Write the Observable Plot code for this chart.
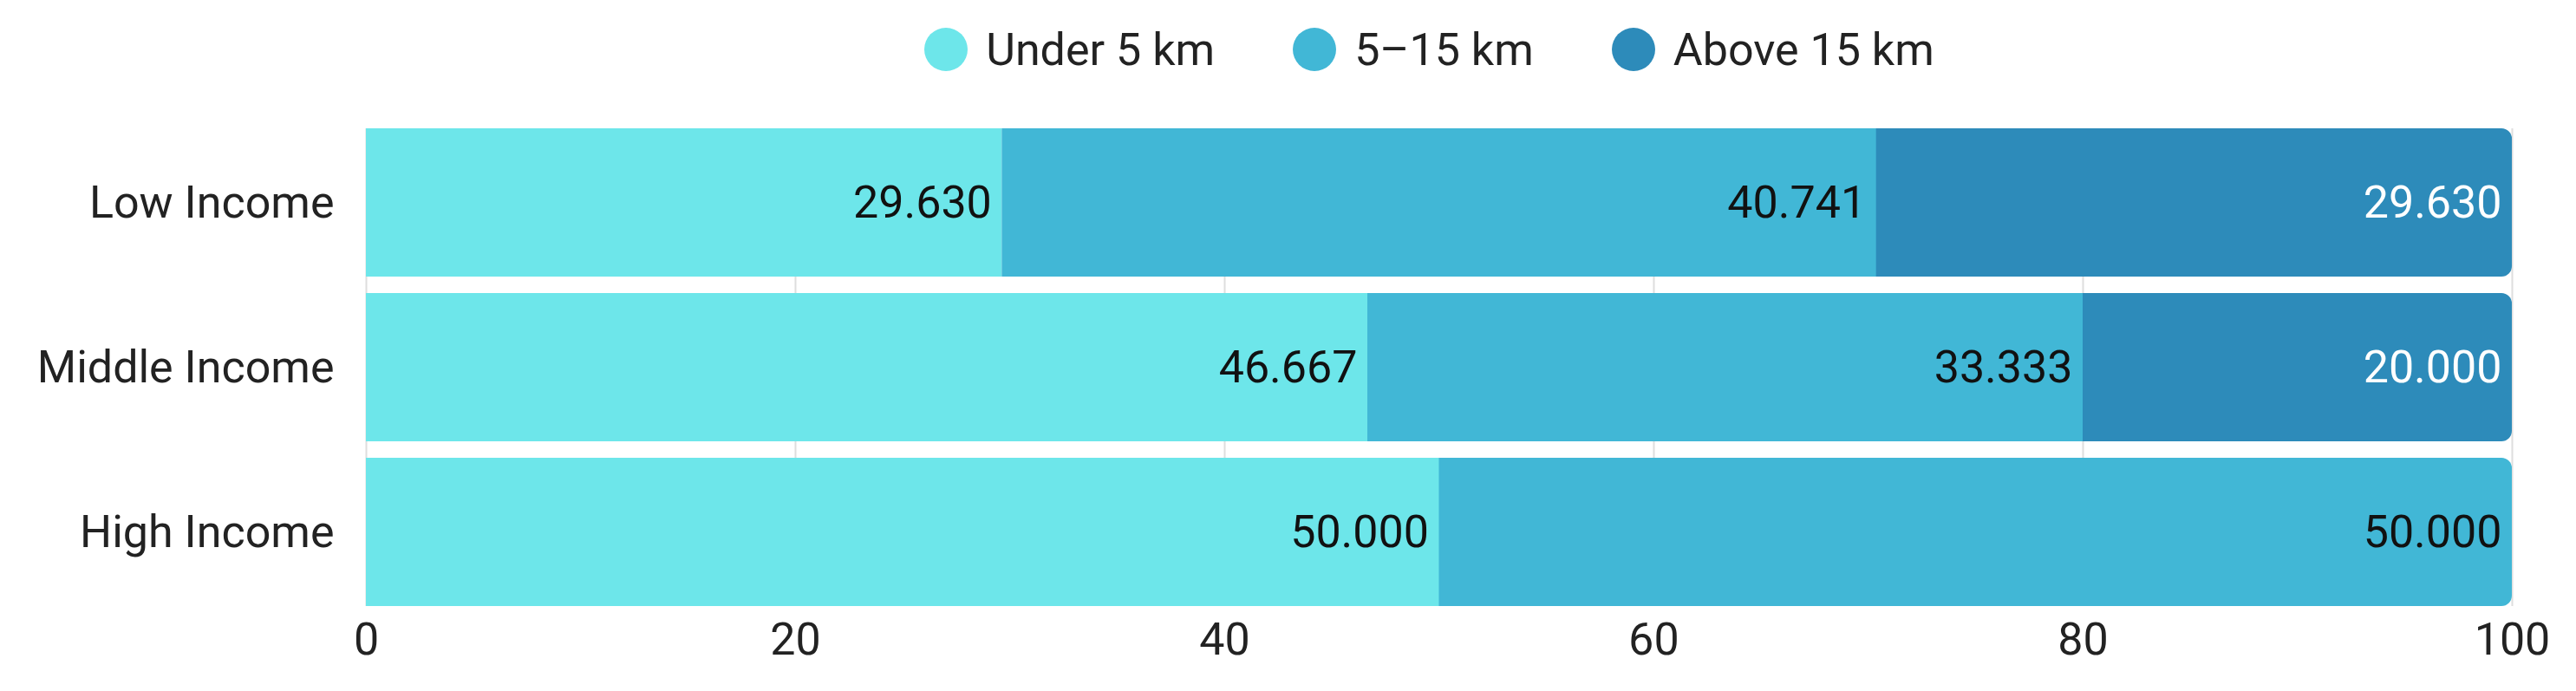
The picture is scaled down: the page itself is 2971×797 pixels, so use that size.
<!DOCTYPE html>
<html><head><meta charset="utf-8">
<script src="https://cdn.jsdelivr.net/npm/d3@7"></script>
<script src="https://cdn.jsdelivr.net/npm/@observablehq/plot@0.6"></script>
<style>
body{margin:0;background:#fff;font-family:Roboto, sans-serif;}
#legend{height:114px;display:flex;align-items:center;justify-content:center;padding-left:326px;box-sizing:border-box;width:2971px;}
.item{display:flex;align-items:center;margin:0 45px;}
.sw{width:50px;height:50px;border-radius:50%;margin-right:21px;}
.lab{font-size:52px;color:#222;white-space:nowrap;}
</style></head><body>
<div id="legend"></div><div id="chart"></div>
<script>
const categories = ["Low Income", "Middle Income", "High Income"];
const series = ["Under 5 km", "5–15 km", "Above 15 km"];
const under5 = [29.630, 46.667, 50.000];
const from5to15 = [40.741, 33.333, 50.000];
const above15 = [29.630, 20.000, 0];
const colors = ["#6DE6EA", "#41B7D6", "#2D8BBA"];
const xTicks = [0, 20, 40, 60, 80, 100];

const seriesValues = [under5, from5to15, above15];
const rows = [];
categories.forEach((cat, i) => {
  let acc = 0;
  const segs = [];
  series.forEach((s, j) => {
    const v = seriesValues[j][i];
    if (v > 0) { segs.push({cat, series: s, value: v, start: acc, end: acc + v, dark: j === 2}); acc += v; }
  });
  segs.forEach((d, k) => { d.last = k === segs.length - 1; rows.push(d); });
});
const fmt = d3.format(".3f");

// legend
const lg = document.getElementById("legend");
series.forEach((s, j) => {
  const it = document.createElement("div"); it.className = "item";
  const sw = document.createElement("div"); sw.className = "sw"; sw.style.background = colors[j];
  const lb = document.createElement("span"); lb.className = "lab"; lb.textContent = s;
  it.appendChild(sw); it.appendChild(lb); lg.appendChild(it);
});

const chart = Plot.plot({
  width: 2971,
  height: 683,
  marginLeft: 422,
  marginRight: 74,
  marginTop: 34,
  marginBottom: 98,
  style: {fontFamily: "Roboto, sans-serif", fontSize: "52px", color: "#222", background: "#fff"},
  x: {domain: [0, 100]},
  y: {domain: categories, paddingInner: 0.1, paddingOuter: 0},
  color: {domain: series, range: colors},
  marks: [
    Plot.gridX(xTicks, {stroke: "#dedede", strokeOpacity: 1, strokeWidth: 2}),
    Plot.barX(rows.filter(d => d.last), {x1: "start", x2: "end", y: "cat", fill: "series", rx: 12, insetLeft: -24}),
    Plot.barX(rows.filter(d => !d.last), {x1: "start", x2: "end", y: "cat", fill: "series"}),
    Plot.text(rows.filter(d => !d.dark), {x: "end", y: "cat", text: d => fmt(d.value), textAnchor: "end", dx: -12, fill: "#111", fontSize: 52}),
    Plot.text(rows.filter(d => d.dark), {x: "end", y: "cat", text: d => fmt(d.value), textAnchor: "end", dx: -12, fill: "#fff", fontSize: 52}),
    Plot.axisX(xTicks, {tickSize: 0, tickPadding: 19, label: null, fontSize: 52}),
    Plot.axisY({tickSize: 0, tickPadding: 37, label: null, fontSize: 52})
  ]
});
document.getElementById("chart").appendChild(chart);
</script>
</body></html>
